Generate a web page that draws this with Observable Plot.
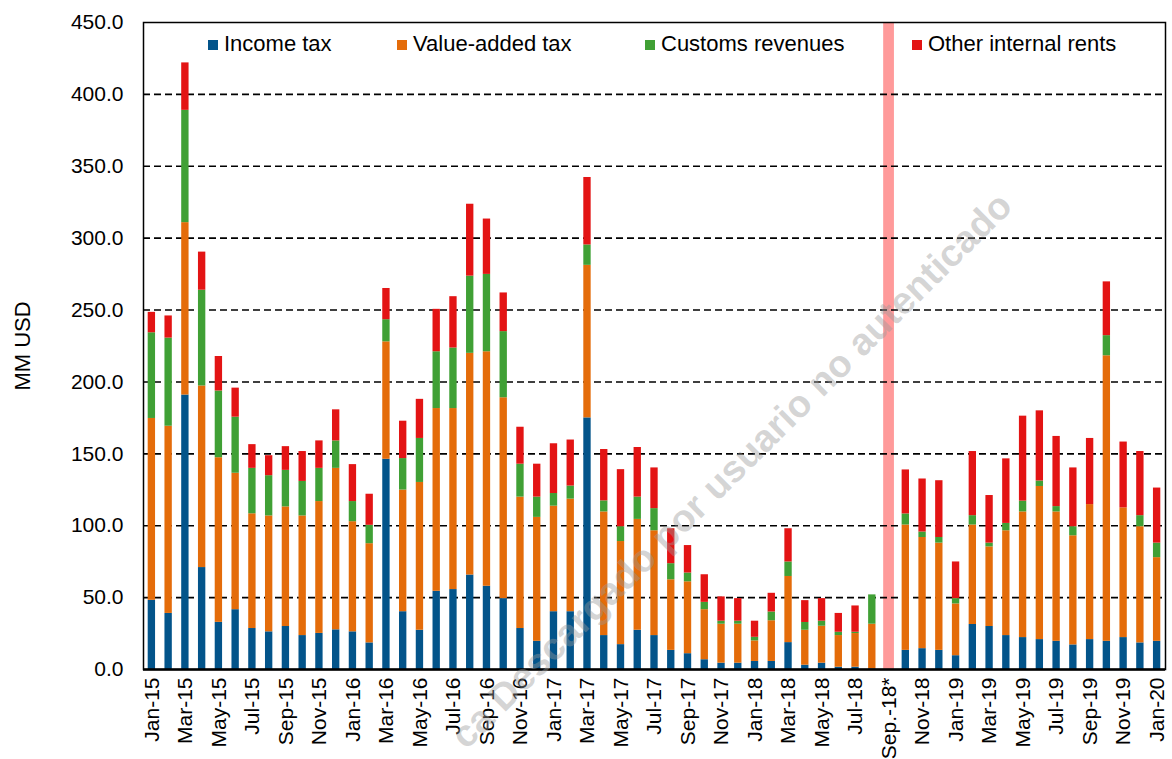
<!DOCTYPE html>
<html>
<head>
<meta charset="utf-8">
<script src="https://cdn.jsdelivr.net/npm/d3@7"></script>
<script src="https://cdn.jsdelivr.net/npm/@observablehq/plot@0.6"></script>
<style>
  html, body { margin: 0; padding: 0; background: #fff; }
  #wrap { position: relative; width: 1172px; height: 759px; overflow: hidden; font-family: "Liberation Sans", Arial, sans-serif; }
  .leg { position: absolute; top: 31px; font-size: 22px; line-height: 26px; color: #000; white-space: nowrap; }
  .leg i { display: inline-block; width: 10px; height: 10px; margin-right: 6px; vertical-align: 1px; }
  #wm { position: absolute; left: 0; top: 0; pointer-events: none; }
</style>
</head>
<body>
<div id="wrap">
  <div id="chart"></div>
  <div id="legend"></div>
  <svg id="wm" width="1172" height="759"></svg>
</div>
<script>
const months = ["Jan-15","Feb-15","Mar-15","Apr-15","May-15","Jun-15","Jul-15","Aug-15","Sep-15","Oct-15","Nov-15","Dec-15",
  "Jan-16","Feb-16","Mar-16","Apr-16","May-16","Jun-16","Jul-16","Aug-16","Sep-16","Oct-16","Nov-16","Dec-16",
  "Jan-17","Feb-17","Mar-17","Apr-17","May-17","Jun-17","Jul-17","Aug-17","Sep-17","Oct-17","Nov-17","Dec-17",
  "Jan-18","Feb-18","Mar-18","Apr-18","May-18","Jun-18","Jul-18","Aug-18","Sep-18","Oct-18","Nov-18","Dec-18",
  "Jan-19","Feb-19","Mar-19","Apr-19","May-19","Jun-19","Jul-19","Aug-19","Sep-19","Oct-19","Nov-19","Dec-19",
  "Jan-20"];

const incomeTax = [48.1,39.0,190.9,70.9,32.8,41.6,28.5,26.2,29.9,23.6,25.1,27.6,
  26.2,18.5,146.2,40.2,27.3,54.4,55.6,65.7,57.9,49.3,28.5,19.6,
  40.2,40.2,175.0,23.6,17.3,27.3,23.6,13.3,11.0,6.8,4.4,4.4,
  5.6,5.6,18.7,3.0,4.4,1.6,1.6,0.5,null,13.3,14.5,13.3,
  9.6,31.3,29.9,23.6,22.2,20.8,19.6,17.1,20.8,19.6,22.2,18.5,
  19.6];
const valueAddedTax = [126.5,130.2,119.9,126.3,114.5,94.9,79.8,80.6,83.2,83.2,91.7,112.3,
  76.6,69.0,81.7,84.6,102.8,127.1,125.9,154.2,163.1,139.7,91.4,86.2,
  73.4,78.3,106.1,86.0,71.7,77.1,72.9,49.1,50.0,34.8,27.1,27.1,
  14.3,28.3,46.0,24.3,25.7,22.0,23.4,31.0,null,87.2,77.3,74.6,
  36.0,69.2,55.4,72.9,87.4,106.5,90.0,75.9,93.9,198.6,90.2,80.8,
  58.2];
const customsRevenues = [59.6,61.3,78.1,66.6,46.4,39.0,31.6,28.0,25.4,24.0,23.1,19.1,
  14.0,12.8,15.4,21.9,30.6,39.5,42.1,53.7,53.8,46.0,22.9,14.1,
  8.8,9.1,14.2,7.7,10.3,15.5,15.4,11.2,6.1,5.1,2.1,2.1,
  2.5,6.1,10.1,5.4,3.5,2.3,0.9,20.4,null,7.7,3.8,3.9,
  3.7,6.5,2.6,5.1,7.5,3.8,3.7,6.3,0,14.0,0,7.7,
  10.1];
const otherInternalRents = [14.2,15.4,33.0,26.5,24.0,20.2,16.5,13.9,16.5,20.8,19.1,21.6,
  25.7,21.6,21.7,26.0,27.2,29.5,35.7,50.0,38.5,26.9,25.7,22.9,
  34.6,32.0,46.9,35.7,39.7,34.5,28.3,24.3,19.1,19.2,16.9,15.7,
  11.2,13.0,23.1,15.2,15.7,13.1,18.3,0,null,30.6,36.9,39.5,
  25.5,44.6,33.1,44.9,59.1,48.8,48.8,40.9,46.0,37.4,45.8,44.6,
  38.3];

const seriesNames = ["Income tax","Value-added tax","Customs revenues","Other internal rents"];
const seriesColors = ["#03548A","#E46C0A","#40A035","#E31414"];
const highlightMonth = "Sep-18";
const highlightColor = "#FF9A9A";

const tickMonths = ["Jan-15","Mar-15","May-15","Jul-15","Sep-15","Nov-15",
  "Jan-16","Mar-16","May-16","Jul-16","Sep-16","Nov-16",
  "Jan-17","Mar-17","May-17","Jul-17","Sep-17","Nov-17",
  "Jan-18","Mar-18","May-18","Jul-18","Sep-18","Nov-18",
  "Jan-19","Mar-19","May-19","Jul-19","Sep-19","Nov-19","Jan-20"];
const tickLabels = ["Jan-15","Mar-15","May-15","Jul-15","Sep-15","Nov-15",
  "Jan-16","Mar-16","May-16","Jul-16","Sep-16","Nov-16",
  "Jan-17","Mar-17","May-17","Jul-17","Sep-17","Nov-17",
  "Jan-18","Mar-18","May-18","Jul-18","Sep.-18*","Nov-18",
  "Jan-19","Mar-19","May-19","Jul-19","Sep-19","Nov-19","Jan-20"];
const yTicks = [0,50,100,150,200,250,300,350,400,450];
const gridValues = [50,100,150,200,250,300,350,400];
const yLabel = "MM USD";

const seriesArrays = [incomeTax, valueAddedTax, customsRevenues, otherInternalRents];
const rows = [];
months.forEach((m, i) => {
  seriesArrays.forEach((arr, s) => {
    if (arr[i] != null) rows.push({month: m, series: seriesNames[s], value: arr[i]});
  });
});
const tickLabelMap = new Map(tickMonths.map((m, i) => [m, tickLabels[i]]));

const chart = Plot.plot({
  width: 1172,
  height: 759,
  marginLeft: 143,
  marginRight: 7,
  marginTop: 22,
  marginBottom: 90,
  style: {fontFamily: "'Liberation Sans', Arial, sans-serif", fontSize: "21px", color: "#000", background: "#fff"},
  x: {type: "band", domain: months, padding: 0, axis: null},
  y: {domain: [0, 450], axis: null},
  color: {domain: seriesNames, range: seriesColors},
  marks: [
    Plot.barY([{month: highlightMonth}], {x: "month", y1: 0, y2: 450, fill: highlightColor, insetLeft: 3, insetRight: 3}),
    Plot.ruleY(gridValues, {stroke: "#000", strokeWidth: 1.6, strokeDasharray: "7,4"}),
    Plot.barY(rows, Plot.stackY({x: "month", y: "value", fill: "series", insetLeft: 4.7, insetRight: 4.7})),
    Plot.frame({stroke: "#000", strokeWidth: 1.5}),
    Plot.ruleY([0], {stroke: "#000", strokeWidth: 2.5}),
    Plot.ruleX([months[0]], {x: months[0], dx: -8.4, stroke: "#000", strokeWidth: 2}),
    Plot.axisY({ticks: yTicks, tickFormat: d3.format(".1f"), tickSize: 0, tickPadding: 20, fontSize: 21, label: null}),
    Plot.axisX({ticks: tickMonths, tickFormat: d => tickLabelMap.get(d), tickRotate: -90, tickSize: 0, tickPadding: 8, fontSize: 21, label: null}),
    Plot.text([yLabel], {frameAnchor: "left", dx: -121, rotate: -90, textAnchor: "middle", fontSize: 22, fill: "#000"})
  ]
});
document.getElementById("chart").appendChild(chart);

// Legend (inside the plot area, as in the reference)
const legendX = [208, 397, 645, 912];
const legend = document.getElementById("legend");
seriesNames.forEach((name, i) => {
  const d = document.createElement("div");
  d.className = "leg";
  d.style.left = legendX[i] + "px";
  d.innerHTML = `<i style="background:${seriesColors[i]}"></i>${name}`;
  legend.appendChild(d);
});

// Watermark
const wm = d3.select("#wm");
const g = wm.append("g").attr("transform", "translate(497,706) rotate(-44.7)");
g.append("text").text("Descargado por usuario no autenticado")
  .attr("x", 0).attr("y", 0).attr("dominant-baseline", "middle")
  .attr("font-family", "'Liberation Sans', Arial, sans-serif").attr("font-weight", "bold")
  .attr("font-size", 38).attr("fill", "#9a9a9a").attr("fill-opacity", 0.42);
g.append("text").text("ca")
  .attr("x", -11).attr("y", 0).attr("text-anchor", "end").attr("dominant-baseline", "middle")
  .attr("font-family", "'Liberation Sans', Arial, sans-serif").attr("font-weight", "bold")
  .attr("font-size", 38).attr("fill", "#9a9a9a").attr("fill-opacity", 0.42);
</script>
</body>
</html>
